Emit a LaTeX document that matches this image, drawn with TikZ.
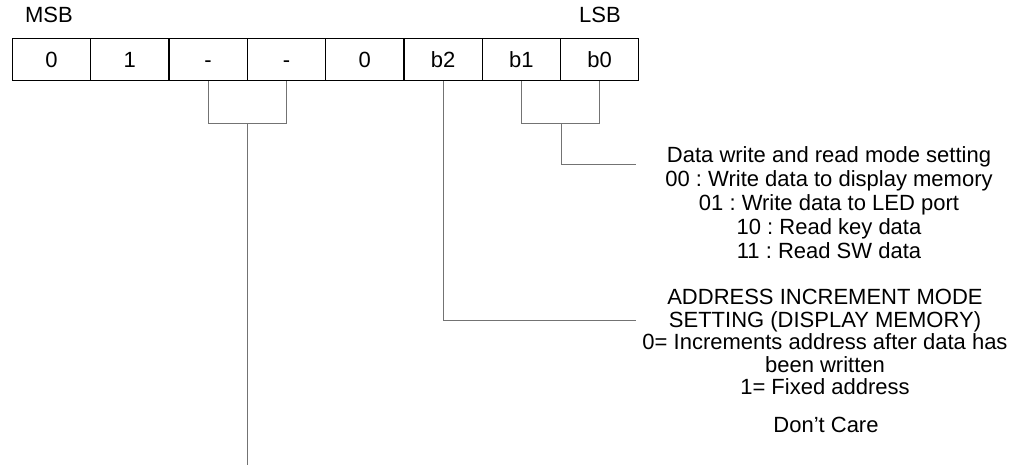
\documentclass[tikz,border=0pt]{standalone}
\usepackage{fontspec}
\setmainfont{Liberation Sans}
\usetikzlibrary{positioning}
\frenchspacing
\tikzset{
  bitcell/.style={draw=black, line width=1.2pt, minimum width=78.3pt, minimum height=42pt,
    text height=16pt, text depth=0pt, inner sep=0pt, anchor=north west},
  wire/.style={draw=black!55, line width=1pt},
  note/.style={align=center, inner sep=0pt, anchor=north},
}
\begin{document}
\begin{tikzpicture}[x=1pt, y=-1pt, font=\fontsize{22}{24}\selectfont]
    \useasboundingbox (0,0) rectangle (1018,471);

    % --- register bits ---
    \foreach \lbl [count=\i from 0] in {0,1,-,-,0,b2,b1,b0}
        \node[bitcell] (c\i) at ({11.8+78.3*\i},38) {\lbl};
    \node (msb) at (49,15) {MSB};
    \node (lsb) at (600,15) {LSB};

    % --- descriptions ---
    \node[note] (rw) at (829,146) {Data write and read mode setting\\
        00 : Write data to display memory\\
        01 : Write data to LED port\\
        10 : Read key data\\
        11 : Read SW data};
    \node[note, font=\fontsize{22}{22.5}\selectfont] (inc) at (825,289) {ADDRESS INCREMENT MODE\\
        SETTING (DISPLAY MEMORY)\\
        0= Increments address after data has\\
        been written\\
        1= Fixed address};
    \node[note] (dontcare) at (826,417) {Don't Care};

    % --- bracket joints and free ends ---
    \coordinate (dcjoin) at (c2.south east |- 0,123);
    \coordinate (rwjoin) at (c6.south east |- 0,123);
    \coordinate (dcend) at (dcjoin |- 0,465);
    \coordinate (rwend) at (636,164);
    \coordinate (incend) at (636,320);

    % b5..b4: don't care
    \draw[wire] (c2.south) |- (c3.south |- dcjoin) -- (c3.south);
    \draw[wire] (dcjoin) -- (dcend);

    % b2: increment mode
    \draw[wire] (c5.south) |- (incend);

    % b1..b0: read/write mode
    \draw[wire] (c6.south) |- (c7.south |- rwjoin) -- (c7.south);
    \draw[wire] (rwjoin) |- (rwend);
\end{tikzpicture}
\end{document}
